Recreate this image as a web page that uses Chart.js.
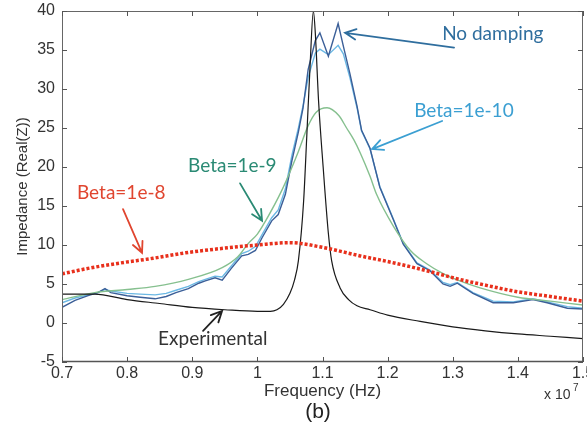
<!DOCTYPE html>
<html><head><meta charset="utf-8">
<script src="https://cdn.jsdelivr.net/npm/chart.js@4"></script>
<style>html,body{margin:0;padding:0;background:#fff}</style>
</head><body>
<canvas id="c" width="587" height="429"></canvas>
<script>
// ---- data (frequency in units of 1e7 Hz, impedance Real(Z)) ----
const xTicks = [0.7, 0.8, 0.9, 1.0, 1.1, 1.2, 1.3, 1.4, 1.5];
const yTicks = [-5, 0, 5, 10, 15, 20, 25, 30, 35, 40];

const expFreq = [0.70,0.75,0.80,0.85,0.90,0.95,1.00,1.02,1.03,1.04,1.05,1.057,1.063,1.071,1.076,1.081,1.086,1.089,1.094,1.101,1.109,1.114,1.127,1.14,1.153,1.173,1.20,1.25,1.30,1.35,1.40,1.45,1.50];
const expImp  = [3.7,3.7,3.0,2.5,2.0,1.7,1.5,1.5,1.7,2.4,3.8,5.5,8.0,15.6,24.2,33.1,40,37.1,28.4,20,11.5,8,4.5,3.0,2.2,1.7,1.0,0.2,-0.5,-1.0,-1.4,-1.7,-2.0];

const dampFreq = [0.70,0.72,0.74,0.755,0.766,0.775,0.80,0.82,0.843,0.86,0.875,0.894,0.91,0.92,0.935,0.946,0.96,0.976,0.986,0.997,1.007,1.022,1.032,1.043,1.053,1.063,1.07,1.078,1.089,1.096,1.109,1.124,1.132,1.142,1.153,1.16,1.168,1.173,1.188,1.209,1.224,1.245,1.265,1.285,1.296,1.307,1.331,1.362,1.393,1.423,1.445,1.476,1.50];
const noDampImp = [2.0,2.9,3.5,3.9,4.4,3.9,3.5,3.3,3.1,3.4,3.9,4.4,5.1,5.4,5.8,5.5,7.0,8.6,8.8,9.3,10.9,13.1,13.9,16.5,20.8,24.5,27.5,32.5,36.2,37.2,34.2,38.4,35.5,32.0,27.8,24.7,23.3,22.4,17.4,13.2,10.1,7.6,6.7,5.0,4.7,5.1,3.8,2.6,2.6,3.0,2.6,1.9,1.8];
const beta10Imp = [2.6,3.2,3.6,3.9,4.3,4.1,3.8,3.7,3.6,3.8,4.2,4.7,5.3,5.6,6.0,5.9,7.3,8.9,9.2,9.8,11.3,13.5,14.5,17.2,21.5,25.0,27.8,31.5,34.6,35.1,34.4,35.6,34.5,31.5,27.6,24.6,23.2,22.3,17.5,13.3,10.2,7.7,6.8,5.2,4.9,5.2,3.9,2.8,2.7,3.1,2.7,2.1,1.9];

const beta9Freq = [0.70,0.75,0.80,0.843,0.894,0.946,0.97,0.986,1.0,1.012,1.0375,1.063,1.078,1.09,1.107,1.125,1.137,1.148,1.158,1.173,1.183,1.209,1.235,1.26,1.286,1.311,1.342,1.40,1.45,1.50];
const beta9Imp  = [3.0,3.9,4.3,4.7,5.6,7.1,8.5,10.2,11.4,13.0,17.0,22.0,25.3,27.0,27.6,26.6,25.0,23.5,21.8,18.8,16.5,12.4,9.3,7.6,6.3,5.4,4.5,3.3,2.8,2.3];

const beta8Freq = [0.70,0.74,0.79,0.84,0.89,0.95,1.00,1.05,1.10,1.158,1.21,1.26,1.31,1.342,1.40,1.45,1.50];
const beta8Imp  = [6.3,7.0,7.7,8.3,9.0,9.6,10.0,10.3,9.7,8.6,7.7,6.7,5.6,5.0,4.0,3.4,2.8];

const pts = (xs, ys) => xs.map((x, i) => ({x: x, y: ys[i]}));

// ---- annotations (anchored in data coordinates) ----
const notes = [
  {text:'No damping',   color:'#2f6e9e', arrow:'#2f6e9e', tx:1.2837, ty:37.05, ax:1.302,  ay:35.3, bx:1.1347, by:37.2},
  {text:'Beta=1e-10',   color:'#3b9fd2', arrow:'#3b9fd2', tx:1.2407, ty:27.2,  ax:1.2837, ay:25.9, bx:1.1762, by:22.3},
  {text:'Beta=1e-9',    color:'#2a8a74', arrow:'#2a8a74', tx:0.8936, ty:20.1,  ax:0.9734, ay:17.9, bx:1.0072, by:13.1},
  {text:'Beta=1e-8',    color:'#e0452f', arrow:'#e0452f', tx:0.723,  ty:16.7,  ax:0.7937, ay:14.6, bx:0.8229, by:9.0},
  {text:'Experimental', color:'#333333', arrow:'#222222', tx:0.8475, ty:-2.05, ax:0.9166, ay:-1.0, bx:0.9458, by:1.54}
];

const fmt = v => String(Math.round(v * 10) / 10);

const decor = {
  id: 'decor',
  afterDatasetsDraw(chart) {
    const {ctx, chartArea: a, scales: {x, y}} = chart;
    ctx.save();
    // box
    ctx.strokeStyle = '#666'; ctx.lineWidth = 1;
    ctx.beginPath();
    ctx.moveTo(a.left + 0.5, a.top + 0.5); ctx.lineTo(a.right - 0.5, a.top + 0.5);
    ctx.lineTo(a.right - 0.5, a.bottom - 0.5);
    ctx.moveTo(a.left + 0.5, a.top); ctx.lineTo(a.left + 0.5, a.bottom);
    ctx.stroke();
    ctx.lineWidth = 1.6; ctx.strokeStyle = '#555';
    ctx.beginPath(); ctx.moveTo(a.left, a.bottom - 0.5); ctx.lineTo(a.right, a.bottom - 0.5); ctx.stroke();
    // inward ticks
    ctx.lineWidth = 1; ctx.strokeStyle = '#555';
    ctx.beginPath();
    x.ticks.forEach(t => {
      const px = Math.round(x.getPixelForValue(t.value)) + 0.5;
      ctx.moveTo(px, a.bottom); ctx.lineTo(px, a.bottom - 5);
      ctx.moveTo(px, a.top); ctx.lineTo(px, a.top + 5);
    });
    y.ticks.forEach(t => {
      const py = Math.round(y.getPixelForValue(t.value)) + 0.5;
      ctx.moveTo(a.left, py); ctx.lineTo(a.left + 5, py);
      ctx.moveTo(a.right, py); ctx.lineTo(a.right - 5, py);
    });
    ctx.stroke();
    // annotations
    notes.forEach(n => {
      const x1 = x.getPixelForValue(n.ax), y1 = y.getPixelForValue(n.ay);
      const x2 = x.getPixelForValue(n.bx), y2 = y.getPixelForValue(n.by);
      ctx.strokeStyle = n.arrow; ctx.lineWidth = 1.8; ctx.lineCap = 'round';
      ctx.beginPath(); ctx.moveTo(x1, y1); ctx.lineTo(x2, y2);
      const ang = Math.atan2(y1 - y2, x1 - x2), L = 12, w = 0.45;
      ctx.moveTo(x2 + L * Math.cos(ang + w), y2 + L * Math.sin(ang + w));
      ctx.lineTo(x2, y2);
      ctx.lineTo(x2 + L * Math.cos(ang - w), y2 + L * Math.sin(ang - w));
      ctx.stroke();
      ctx.fillStyle = n.color; ctx.font = '19px Lato';
      ctx.textAlign = 'left'; ctx.textBaseline = 'middle';
      ctx.fillText(n.text, x.getPixelForValue(n.tx), y.getPixelForValue(n.ty));
    });
    ctx.restore();
  },
  afterDraw(chart) {
    const {ctx} = chart;
    ctx.save();
    ctx.fillStyle = '#333';
    ctx.textBaseline = 'middle'; ctx.textAlign = 'left';
    ctx.font = '14px "Liberation Sans", Arial';
    ctx.fillText('x 10', 544, 395);
    ctx.font = '10px "Liberation Sans", Arial';
    ctx.fillText('7', 573, 388);
    ctx.fillStyle = '#222';
    ctx.font = '21px "Liberation Sans", Arial';
    ctx.textAlign = 'center';
    ctx.fillText('(b)', 318, 412);
    ctx.restore();
  }
};

new Chart(document.getElementById('c'), {
  type: 'line',
  data: {
    datasets: [
      {label: 'Beta=1e-8', data: pts(beta8Freq, beta8Imp), borderColor: '#e8301c', borderWidth: 3.5,
       borderDash: [3, 2], borderCapStyle: 'butt', cubicInterpolationMode: 'monotone', order: 0},
      {label: 'Experimental', data: pts(expFreq, expImp), borderColor: '#1a1a1a', borderWidth: 1.2,
       cubicInterpolationMode: 'monotone', order: 1},
      {label: 'Beta=1e-9', data: pts(beta9Freq, beta9Imp), borderColor: '#86c08f', borderWidth: 1.4,
       cubicInterpolationMode: 'monotone', order: 2},
      {label: 'No damping', data: pts(dampFreq, noDampImp), borderColor: '#3b5f98', borderWidth: 1.4, order: 3},
      {label: 'Beta=1e-10', data: pts(dampFreq, beta10Imp), borderColor: '#6bb8e4', borderWidth: 1.4, order: 4}
    ]
  },
  options: {
    responsive: false,
    animation: false,
    devicePixelRatio: 1,
    layout: {padding: {top: 11, right: 4, bottom: 0, left: 0}},
    elements: {point: {radius: 0, hoverRadius: 0}, line: {fill: false}},
    plugins: {legend: {display: false}, tooltip: {enabled: false}},
    events: [],
    scales: {
      x: {
        type: 'linear', position: 'bottom', min: 0.7, max: 1.5,
        afterBuildTicks: s => { s.ticks = xTicks.map(v => ({value: v})); },
        afterFit: s => { s.height = 67; s.paddingLeft = 0; s.paddingRight = 0; },
        grid: {display: false, drawTicks: false}, border: {display: false},
        ticks: {callback: v => fmt(v), autoSkip: false, maxRotation: 0, padding: 2,
                color: '#333', font: {family: '"Liberation Sans", Arial', size: 16}},
        title: {display: true, text: 'Frequency (Hz)', color: '#333',
                font: {family: '"Liberation Sans", Arial', size: 17}, padding: {top: 0, bottom: 27}}
      },
      y: {
        type: 'linear', min: -5, max: 40,
        afterBuildTicks: s => { s.ticks = yTicks.map(v => ({value: v})); },
        afterFit: s => { s.width = 62; s.paddingTop = 0; s.paddingBottom = 0; },
        grid: {display: false, drawTicks: false}, border: {display: false},
        ticks: {callback: v => String(v), autoSkip: false, padding: 7,
                color: '#333', font: {family: '"Liberation Sans", Arial', size: 16}},
        title: {display: true, text: 'Impedance (Real(Z))', color: '#333',
                font: {family: '"Liberation Sans", Arial', size: 15}, padding: {top: 14, bottom: 0}}
      }
    }
  },
  plugins: [decor]
});
</script>
</body></html>
